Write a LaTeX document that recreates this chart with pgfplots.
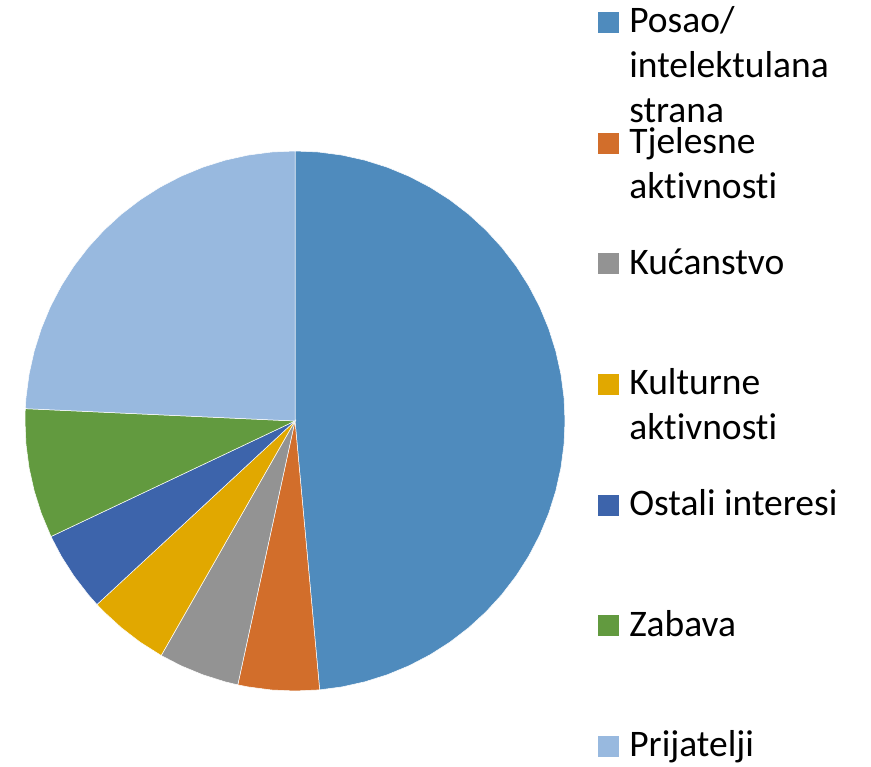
\documentclass[border=0pt]{standalone}
\usepackage{fontspec}
\setmainfont{Carlito}[Ligatures=NoCommon]
\usepackage{pgfplots}
\pgfplotsset{compat=1.18}
\definecolor{cPosao}{HTML}{4F8BBD}
\definecolor{cTjel}{HTML}{D26E2B}
\definecolor{cKuc}{HTML}{939393}
\definecolor{cKult}{HTML}{E1A800}
\definecolor{cOst}{HTML}{3D64AB}
\definecolor{cZab}{HTML}{629A3F}
\definecolor{cPrij}{HTML}{98B9DF}
\begin{document}
\begin{tikzpicture}
\useasboundingbox (0,0) rectangle (871bp,767bp);
% shares: Posao 50, Tjelesne 5, Kucanstvo 5, Kulturne 5, Ostali 5, Zabava 8, Prijatelji 25 (of 103)
\begin{axis}[
  hide axis, scale only axis, clip=false,
  width=540bp, height=540bp,
  xmin=-1, xmax=1, ymin=-1, ymax=1,
  at={(295bp,346bp)}, anchor=center,
  every axis plot/.append style={draw=white, line width=0.5bp},
  legend image code/.code={\fill[#1,draw=none] (0bp,0bp) rectangle (21bp,21bp);},
  legend style={
    at={(1.0617,1.2769)}, anchor=north west,
    draw=none, fill=none, inner sep=0pt, outer sep=0pt,
    row sep=0pt, column sep=10bp,
    cells={anchor=base west},
    nodes={inner sep=0pt, text height=31.5bp, text depth=89.17bp},
    font=\fontsize{37.5bp}{45bp}\selectfont,
  },
]
\addplot[fill=cPosao, data cs=polar] coordinates {(0,0) (90,1) (85,1) (80,1) (75,1) (70,1) (65,1) (60,1) (55,1) (50,1) (45,1) (40,1) (35,1) (30,1) (25,1) (20,1) (15,1) (10,1) (5,1) (0,1) (-5,1) (-10,1) (-15,1) (-20,1) (-25,1) (-30,1) (-35,1) (-40,1) (-45,1) (-50,1) (-55,1) (-60,1) (-65,1) (-70,1) (-75,1) (-80,1) (-84.757,1)} -- cycle;
\addlegendentry{\parbox[t]{230bp}{Posao/\\intelektulana\\strana}}
\addplot[fill=cTjel, data cs=polar] coordinates {(0,0) (-84.757,1) (-90,1) (-95,1) (-100,1) (-102.233,1)} -- cycle;
\addlegendentry{\parbox[t]{230bp}{Tjelesne\\aktivnosti}}
\addplot[fill=cKuc, data cs=polar] coordinates {(0,0) (-102.233,1) (-105,1) (-110,1) (-115,1) (-119.709,1)} -- cycle;
\addlegendentry{\parbox[t]{230bp}{Kućanstvo}}
\addplot[fill=cKult, data cs=polar] coordinates {(0,0) (-119.709,1) (-125,1) (-130,1) (-135,1) (-137.184,1)} -- cycle;
\addlegendentry{\parbox[t]{230bp}{Kulturne\\aktivnosti}}
\addplot[fill=cOst, data cs=polar] coordinates {(0,0) (-137.184,1) (-140,1) (-145,1) (-150,1) (-154.660,1)} -- cycle;
\addlegendentry{\parbox[t]{230bp}{Ostali interesi}}
\addplot[fill=cZab, data cs=polar] coordinates {(0,0) (-154.660,1) (-160,1) (-165,1) (-170,1) (-175,1) (-180,1) (-182.621,1)} -- cycle;
\addlegendentry{\parbox[t]{230bp}{Zabava}}
\addplot[fill=cPrij, data cs=polar] coordinates {(0,0) (-182.621,1) (-185,1) (-190,1) (-195,1) (-200,1) (-205,1) (-210,1) (-215,1) (-220,1) (-225,1) (-230,1) (-235,1) (-240,1) (-245,1) (-250,1) (-255,1) (-260,1) (-265,1) (-270,1)} -- cycle;
\addlegendentry{\parbox[t]{230bp}{Prijatelji}}
\end{axis}
\end{tikzpicture}
\end{document}
